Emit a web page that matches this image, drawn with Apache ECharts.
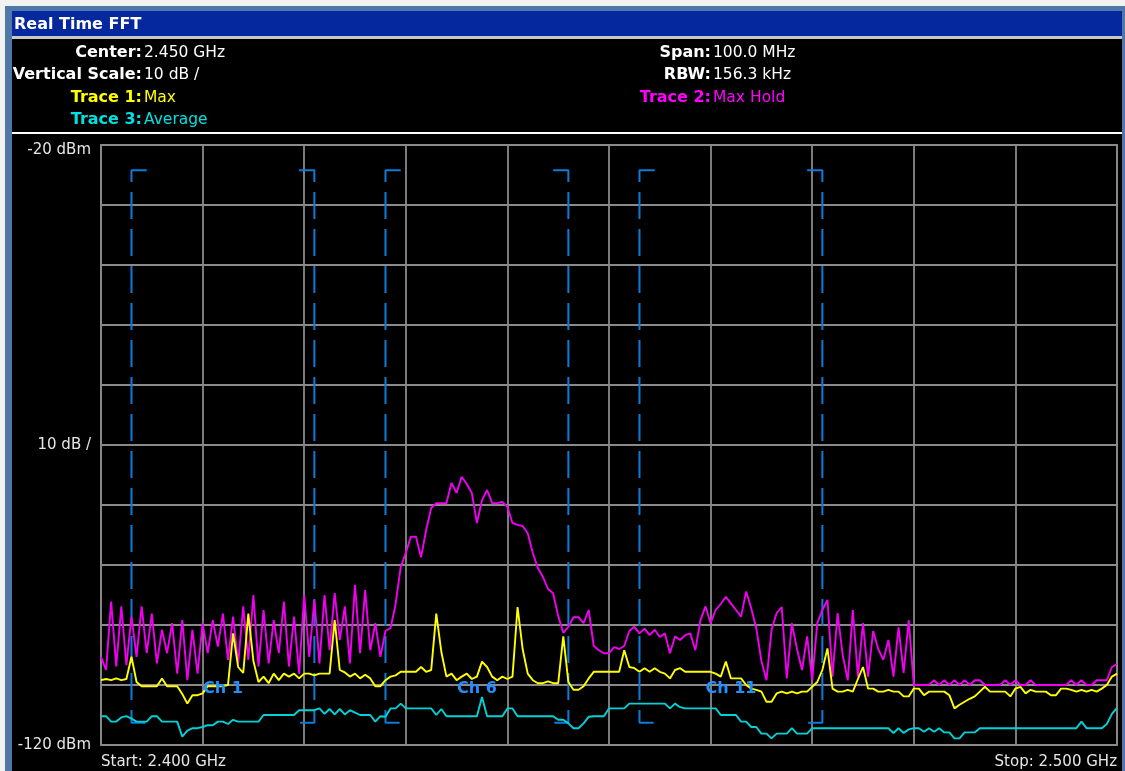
<!DOCTYPE html>
<html>
<head>
<meta charset="utf-8">
<script src="https://cdn.jsdelivr.net/npm/echarts@6/dist/echarts.min.js"></script>
<style>
html,body{margin:0;padding:0;background:#000;}
#chart{width:1125px;height:771px;}
</style>
</head>
<body>
<div id="chart"></div>
<script>
// ---- data ----
const freqStart = 2400;   // MHz
const freqStep = 0.5;     // MHz per sample
const yTicks = {'-20': '{top|-20 dBm}', '-70': '10 dB /', '-120': '-120 dBm'};
const xTicks = {'2400': 'Start: 2.400 GHz', '2500': 'Stop: 2.500 GHz'};

const trace1Max = [
-109.2,-109.0,-109.2,-108.9,-109.2,-109.0,-105.3,-109.5,-110.2,-110.2,
-110.2,-110.2,-108.9,-110.2,-110.2,-110.2,-111.5,-113.1,-111.7,-111.7,
-111.4,-110.2,-110.2,-110.2,-110.2,-110.0,-101.4,-107.0,-108.0,-98.1,
-106.0,-109.5,-108.6,-109.7,-108.1,-109.2,-108.1,-108.6,-108.1,-108.9,
-108.1,-108.1,-108.4,-108.1,-108.1,-108.1,-99.2,-107.5,-107.9,-108.6,
-108.1,-108.9,-108.3,-108.9,-110.2,-110.2,-109.2,-108.6,-108.4,-107.8,
-107.8,-107.8,-107.8,-107.0,-107.8,-107.5,-98.1,-104.5,-108.6,-108.1,
-109.2,-108.6,-108.1,-109.0,-108.6,-106.1,-107.0,-108.6,-109.2,-108.6,
-109.0,-108.6,-97.0,-104.0,-108.1,-109.2,-109.7,-109.7,-109.4,-109.7,
-109.7,-101.9,-109.5,-110.8,-110.8,-110.2,-108.9,-107.8,-107.8,-107.8,
-107.8,-107.8,-107.8,-104.2,-107.0,-107.2,-107.8,-107.2,-107.8,-107.2,
-107.8,-108.1,-108.9,-107.5,-107.2,-107.8,-107.8,-107.8,-107.8,-107.8,
-107.8,-108.1,-108.6,-106.1,-108.9,-108.9,-108.9,-110.0,-110.6,-110.8,
-111.1,-112.8,-112.8,-111.4,-111.1,-111.4,-111.1,-111.4,-111.1,-111.1,
-110.3,-109.5,-107.5,-103.9,-110.6,-111.1,-111.1,-110.8,-111.1,-109.0,
-107.0,-110.6,-110.6,-111.1,-111.1,-110.8,-111.1,-111.1,-111.9,-111.9,
-110.6,-110.6,-111.7,-111.1,-111.1,-111.1,-111.1,-111.7,-113.9,-113.3,
-112.8,-112.3,-111.9,-111.1,-110.3,-111.1,-111.1,-111.1,-111.1,-111.9,
-110.6,-110.3,-111.4,-110.8,-111.1,-111.1,-111.1,-111.7,-111.7,-110.6,
-110.6,-110.8,-111.1,-110.8,-111.1,-110.8,-111.1,-110.6,-110.0,-108.6,
-108.1
];

const trace2MaxHold = [
-105.3,-107.5,-96.1,-106.9,-96.9,-106.7,-98.6,-105.3,-96.9,-104.7,
-98.1,-106.4,-100.8,-104.7,-99.7,-108.1,-99.2,-109.2,-100.8,-108.1,
-99.7,-104.7,-99.2,-103.6,-98.1,-105.8,-98.6,-106.4,-96.9,-105.8,
-95.0,-106.9,-97.5,-106.4,-99.2,-104.7,-96.1,-106.9,-98.6,-108.1,
-95.0,-105.3,-95.8,-106.4,-95.0,-104.2,-94.7,-102.5,-96.9,-106.4,
-93.3,-104.7,-94.2,-104.2,-99.7,-105.3,-101.0,-100.5,-96.5,-90.3,
-88.0,-85.3,-85.3,-88.7,-84.2,-80.5,-79.7,-79.7,-79.7,-76.3,
-78.0,-75.3,-76.5,-78.0,-83.0,-79.2,-77.5,-79.7,-79.7,-79.5,
-80.3,-83.0,-83.3,-83.5,-84.7,-88.0,-90.5,-92.0,-94.0,-94.7,
-98.5,-101.3,-100.3,-98.7,-98.7,-99.7,-97.5,-103.5,-104.2,-104.7,
-104.7,-103.7,-104.0,-103.5,-101.0,-100.3,-101.4,-100.6,-101.7,-100.8,
-102.0,-101.4,-104.7,-101.9,-102.5,-101.7,-101.4,-104.2,-99.2,-96.9,
-99.7,-97.5,-96.5,-95.3,-96.4,-97.5,-98.6,-94.4,-97.2,-100.6,
-106.0,-109.2,-100.8,-98.0,-97.0,-108.9,-99.7,-104.0,-107.5,-101.9,
-109.2,-99.7,-97.5,-95.8,-108.6,-98.0,-105.0,-109.2,-97.5,-108.6,
-99.7,-108.6,-101.0,-104.0,-105.8,-102.5,-108.6,-100.4,-108.0,-99.2,
-110.0,-110.0,-110.0,-110.0,-109.2,-110.0,-109.2,-110.0,-109.2,-110.0,
-109.2,-110.0,-109.2,-109.2,-110.0,-110.0,-110.0,-110.0,-109.2,-110.0,
-109.2,-110.0,-110.0,-109.2,-110.0,-110.0,-110.0,-110.0,-110.0,-110.0,
-110.0,-109.2,-110.0,-109.2,-110.0,-110.0,-109.2,-109.2,-109.2,-107.0,
-106.5
];

const trace3Average = [
-115.2,-115.2,-116.1,-116.1,-115.4,-115.2,-115.6,-116.1,-116.1,-116.1,
-115.2,-115.2,-116.1,-116.1,-116.1,-116.1,-118.6,-117.6,-117.2,-117.2,
-117.0,-116.7,-116.7,-116.1,-116.1,-116.5,-115.8,-116.1,-116.1,-116.1,
-116.1,-116.1,-115.0,-115.0,-115.0,-115.0,-115.0,-115.0,-115.0,-114.2,
-114.2,-114.2,-114.2,-113.9,-114.8,-114.0,-114.9,-114.0,-114.9,-114.2,
-114.6,-115.0,-115.0,-115.0,-116.1,-115.2,-115.3,-113.9,-113.9,-113.1,
-113.9,-113.9,-113.9,-113.9,-113.9,-113.9,-115.0,-114.0,-115.2,-115.2,
-115.2,-115.2,-115.2,-115.2,-115.2,-112.0,-115.2,-115.2,-115.2,-115.2,
-113.9,-113.9,-115.2,-115.2,-115.2,-115.2,-115.2,-115.2,-115.2,-115.2,
-115.8,-115.8,-116.4,-117.2,-117.2,-116.4,-115.3,-115.2,-115.2,-115.2,
-113.9,-113.9,-113.9,-113.9,-113.1,-113.1,-113.1,-113.1,-113.1,-113.1,
-113.1,-113.1,-113.9,-113.1,-113.7,-113.9,-113.9,-113.9,-113.9,-113.9,
-113.9,-113.9,-115.0,-115.0,-115.0,-115.0,-116.1,-116.1,-117.0,-117.0,
-118.1,-118.1,-118.9,-118.1,-118.1,-118.1,-117.2,-118.1,-118.1,-118.1,
-117.2,-117.2,-117.2,-117.2,-117.2,-117.2,-117.2,-117.2,-117.2,-117.2,
-117.2,-117.2,-117.2,-117.2,-117.2,-117.2,-118.0,-117.2,-118.0,-117.4,
-117.2,-117.2,-117.8,-117.2,-117.8,-117.2,-117.9,-117.9,-118.9,-118.9,
-117.9,-117.9,-117.9,-117.2,-117.2,-117.2,-117.2,-117.2,-117.2,-117.2,
-117.2,-117.2,-117.2,-117.2,-117.2,-117.2,-117.2,-117.2,-117.2,-117.2,
-117.2,-117.2,-117.2,-116.1,-117.2,-117.2,-117.2,-117.2,-116.5,-114.8,
-113.8
];

const channelNames = ['Ch 1', 'Ch 6', 'Ch 11'];
const channelCenters = [2412, 2437, 2462];   // MHz
const channelHalfWidth = 9;                  // MHz
const maskTop = -24.2;
const maskBottom = -116.3;
const maskCorner = 1.5;                      // MHz
const channelLabelLevel = -110.7;

// ---- build ----
function pairs(arr){ return arr.map((v,i)=>[freqStart + i*freqStep, v]); }

const FONT = 'DejaVu Sans';
const maskColor = '#0c7bdc';
const series = [];
channelCenters.forEach((c)=>{
  const l = c - channelHalfWidth, r = c + channelHalfWidth;
  [[l, maskCorner],[r, -maskCorner]].forEach(([e, d])=>{
    series.push({
      type:'line', silent:true, symbol:'none', animation:false,
      lineStyle:{color:maskColor, width:2, type:[27,10]},
      data:[[e+d, maskTop],[e, maskTop],[e, maskBottom],[e+d, maskBottom]]
    });
  });
});
series.push({type:'line', symbol:'none', showSymbol:false, animation:false,
  lineStyle:{color:'#00d2d8', width:1.9}, data:pairs(trace3Average)});
series.push({type:'line', symbol:'none', showSymbol:false, animation:false,
  lineStyle:{color:'#f000f0', width:1.9}, data:pairs(trace2MaxHold)});
series.push({type:'line', symbol:'none', showSymbol:false, animation:false,
  lineStyle:{color:'#ffff00', width:1.9}, data:pairs(trace1Max)});
series.push({type:'scatter', symbolSize:1, animation:false, silent:true, z:10,
  itemStyle:{color:'rgba(0,0,0,0)', opacity:1},
  label:{show:true, position:'inside', color:'#1e90ff', opacity:1, textBorderWidth:0, textBorderColor:'transparent',
    fontFamily:FONT, fontWeight:'bold', fontSize:16,
    formatter:(p)=>channelNames[p.dataIndex]},
  data:channelCenters.map(c=>[c, channelLabelLevel])});

function txt(x, y, text, color, bold, align, size){
  return {type:'text', x:x, y:y, silent:true,
    style:{text:text, fill:color, fontFamily:FONT, fontWeight: bold?'bold':'normal',
      fontSize:size||15.5, textAlign:align||'left', textVerticalAlign:'middle'}};
}

const graphic = [
  {type:'rect', silent:true, shape:{x:0,y:0,width:5,height:771}, style:{fill:'#f2f2f2'}},
  {type:'rect', silent:true, shape:{x:0,y:0,width:1125,height:6}, style:{fill:'#f2f2f2'}},
  {type:'rect', silent:true, shape:{x:5,y:6,width:7,height:765}, style:{fill:'#4f77a8'}},
  {type:'rect', silent:true, shape:{x:5,y:6,width:1120,height:5}, style:{fill:'#4f77a8'}},
  {type:'rect', silent:true, shape:{x:1122,y:6,width:3,height:765}, style:{fill:'#4f77a8'}},
  {type:'rect', silent:true, shape:{x:12,y:11,width:1110,height:25}, style:{fill:'#06289e'}},
  {type:'rect', silent:true, shape:{x:12,y:36,width:1110,height:3}, style:{fill:'#c8c8c8'}},
  {type:'rect', silent:true, shape:{x:12,y:132,width:1110,height:2}, style:{fill:'#ffffff'}},
  txt(14, 25, 'Real Time FFT', '#ffffff', true, 'left', 16),
  txt(142, 53, 'Center:', '#ffffff', true, 'right', 16),
  txt(144, 53, '2.450 GHz', '#ffffff', false),
  txt(142, 75, 'Vertical Scale:', '#ffffff', true, 'right', 16),
  txt(144, 75, '10 dB /', '#ffffff', false),
  txt(142, 98, 'Trace 1:', '#ffff00', true, 'right', 16),
  txt(144, 98, 'Max', '#ffff00', false),
  txt(142, 120, 'Trace 3:', '#00e0e0', true, 'right', 16),
  txt(144, 120, 'Average', '#00e0e0', false),
  txt(711, 53, 'Span:', '#ffffff', true, 'right', 16),
  txt(713, 53, '100.0 MHz', '#ffffff', false),
  txt(711, 75, 'RBW:', '#ffffff', true, 'right', 16),
  txt(713, 75, '156.3 kHz', '#ffffff', false),
  txt(711, 98, 'Trace 2:', '#ff00ff', true, 'right', 16),
  txt(713, 98, 'Max Hold', '#ff00ff', false)
];

const gridColor = '#8a8a8a';
const option = {
  backgroundColor:'#000000',
  animation:false,
  graphic: graphic,
  grid:{left:101, right:8, top:145, bottom:26, show:true, borderColor:gridColor, borderWidth:1.8, backgroundColor:'transparent'},
  xAxis:{type:'value', min:2400, max:2500, interval:10,
    axisLine:{show:false}, axisTick:{show:false},
    splitLine:{show:true, lineStyle:{color:gridColor, width:1.8}},
    axisLabel:{color:'#e6e6e6', fontFamily:FONT, fontSize:15, margin:10,
      alignMinLabel:'left', alignMaxLabel:'right',
      formatter:(v)=> xTicks[String(v)] || ''}},
  yAxis:{type:'value', min:-120, max:-20, interval:10,
    axisLine:{show:false}, axisTick:{show:false},
    splitLine:{show:true, lineStyle:{color:gridColor, width:1.8}},
    axisLabel:{color:'#e6e6e6', fontFamily:FONT, fontSize:15, margin:10,
      rich:{top:{color:'#e6e6e6', fontFamily:FONT, fontSize:15, padding:[10,0,0,0]}},
      formatter:(v)=> yTicks[String(v)] || ''}},
  series: series
};
const chart = echarts.init(document.getElementById('chart'), null, {renderer:'canvas'});
chart.setOption(option);
</script>
</body>
</html>
